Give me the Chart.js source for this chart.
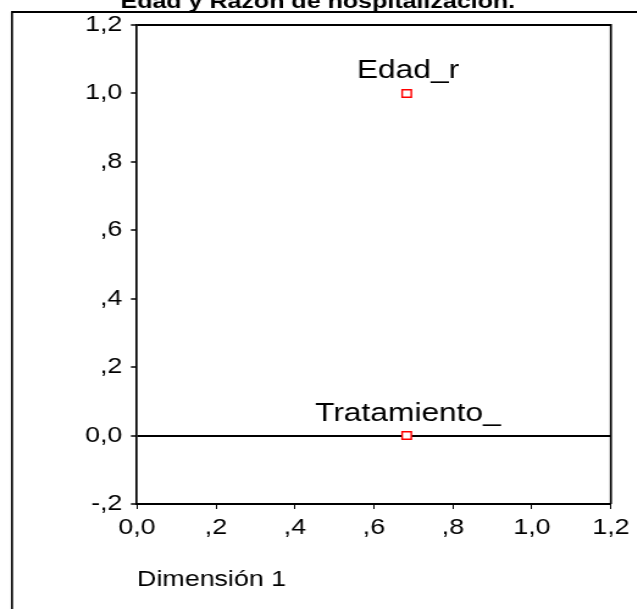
<!DOCTYPE html>
<html>
<head>
<meta charset="utf-8">
<script src="https://cdn.jsdelivr.net/npm/chart.js"></script>
<style>
  body { margin: 0; background: #fff; overflow: hidden; }
  /* el grafico original esta estirado a lo ancho */
  canvas { display: block; transform: scaleX(1.22); transform-origin: 0 0; }
</style>
</head>
<body>
<canvas id="myChart" width="522" height="609"></canvas>
<script>
// datos
const chartTitle = 'Edad y Razón de hospitalización.';
const xTitle = 'Dimensión 1';
const pointNames = ['Edad_r', 'Tratamiento_'];
const dim1 = [0.683, 0.683];
const dim2 = [1.0, 0.0];
const xTickLabels = ['0,0', ',2', ',4', ',6', ',8', '1,0', '1,2'];
const yTickLabels = ['-,2', '0,0', ',2', ',4', ',6', ',8', '1,0', '1,2'];

const fontFamily = '"Liberation Sans", Arial, sans-serif';

const points = dim1.map((x, i) => ({ x: x, y: dim2[i], name: pointNames[i] }));

// fondo, marco exterior, titulo, recuadro y etiquetas de puntos
const decor = {
    id: 'decor',
    beforeDraw(chart) {
        const ctx = chart.ctx;
        ctx.save();
        ctx.fillStyle = '#fff';
        ctx.fillRect(0, 0, chart.width, chart.height);
        ctx.strokeStyle = '#000';
        ctx.lineWidth = 1.7;
        ctx.beginPath();
        ctx.moveTo(9.8, chart.height);
        ctx.lineTo(9.8, 12);
        ctx.stroke();
        ctx.lineWidth = 2;
        ctx.beginPath();
        ctx.moveTo(9, 12);
        ctx.lineTo(chart.width, 12);
        ctx.stroke();
        ctx.fillStyle = '#000';
        ctx.font = 'bold 20.5px ' + fontFamily;
        ctx.textAlign = 'center';
        ctx.textBaseline = 'alphabetic';
        ctx.fillText(chartTitle, 260.5, 8);
        ctx.restore();
    },
    afterDatasetsDraw(chart) {
        const ctx = chart.ctx;
        const a = chart.chartArea;
        ctx.save();
        ctx.strokeStyle = '#000';
        ctx.lineWidth = 2;
        ctx.beginPath();
        ctx.moveTo(a.left, a.top);
        ctx.lineTo(a.right, a.top);
        ctx.stroke();
        ctx.lineWidth = 1.7;
        ctx.beginPath();
        ctx.moveTo(a.right, a.top - 1);
        ctx.lineTo(a.right, a.bottom);
        ctx.stroke();
        ctx.font = '26px ' + fontFamily;
        ctx.fillStyle = '#000';
        ctx.textAlign = 'center';
        ctx.textBaseline = 'alphabetic';
        const meta = chart.getDatasetMeta(0);
        meta.data.forEach((el, i) => {
            ctx.fillText(points[i].name, el.x + 1, el.y - 15);
        });
        ctx.restore();
    }
};

const ctx = document.getElementById('myChart').getContext('2d');
const chart = new Chart(ctx, {
    type: 'scatter',
    data: {
        datasets: [{
            label: 'puntos',
            data: points,
            pointStyle: 'rect',
            pointRadius: 5.3,
            pointHoverRadius: 5.3,
            borderColor: '#ff0000',
            backgroundColor: '#ffffff',
            borderWidth: 1.4
        }]
    },
    options: {
        responsive: false,
        animation: false,
        events: [],
        layout: { padding: { left: 0, top: 25, right: 20.4, bottom: 0 } },
        plugins: {
            legend: { display: false },
            tooltip: { enabled: false }
        },
        scales: {
            x: {
                type: 'linear',
                min: 0,
                max: 1.2,
                afterFit: (scale) => { scale.height = 105; },
                afterBuildTicks: (scale) => {
                    scale.ticks = xTickLabels.map((t, i) => ({ value: i * 0.2 }));
                },
                ticks: {
                    color: '#000',
                    font: { family: fontFamily, size: 22 },
                    padding: 6,
                    maxRotation: 0,
                    callback: (v, i) => xTickLabels[i]
                },
                grid: {
                    drawOnChartArea: false,
                    tickLength: 5,
                    tickColor: '#000',
                    tickWidth: 1
                },
                border: { color: '#000', width: 2 },
                title: {
                    display: true,
                    text: xTitle,
                    align: 'start',
                    color: '#000',
                    font: { family: fontFamily, size: 22 },
                    padding: { top: 0, bottom: 16 }
                }
            },
            y: {
                type: 'linear',
                min: -0.2,
                max: 1.2,
                afterFit: (scale) => { scale.width = 112.3; },
                afterBuildTicks: (scale) => {
                    scale.ticks = yTickLabels.map((t, i) => ({ value: -0.2 + i * 0.2 }));
                },
                ticks: {
                    color: '#000',
                    font: { family: fontFamily, size: 22 },
                    padding: 7,
                    callback: (v, i) => yTickLabels[i]
                },
                grid: {
                    drawOnChartArea: true,
                    color: (c) => (c.tick && Math.abs(c.tick.value) < 1e-9) ? '#000' : 'rgba(0,0,0,0)',
                    lineWidth: 2,
                    tickLength: 5,
                    tickColor: '#000',
                    tickWidth: 1.5
                },
                border: { color: '#000', width: 1.7 }
            }
        }
    },
    plugins: [decor]
});
</script>
</body>
</html>
